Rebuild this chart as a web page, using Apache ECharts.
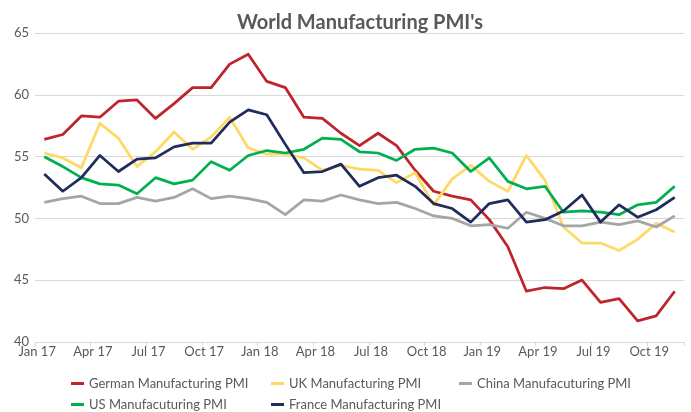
<!DOCTYPE html>
<html>
<head>
<meta charset="utf-8">
<script src="https://cdn.jsdelivr.net/npm/echarts@6/dist/echarts.min.js"></script>
<style>
html,body{margin:0;padding:0;background:#fff;}
#chart{width:691px;height:412px;}
</style>
</head>
<body>
<div id="chart"></div>
<script>
var categories = ['Jan 17','Feb 17','Mar 17','Apr 17','May 17','Jun 17','Jul 17','Aug 17','Sep 17','Oct 17','Nov 17','Dec 17',
  'Jan 18','Feb 18','Mar 18','Apr 18','May 18','Jun 18','Jul 18','Aug 18','Sep 18','Oct 18','Nov 18','Dec 18',
  'Jan 19','Feb 19','Mar 19','Apr 19','May 19','Jun 19','Jul 19','Aug 19','Sep 19','Oct 19','Nov 19'];

var germany = [56.4,56.8,58.3,58.2,59.5,59.6,58.1,59.3,60.6,60.6,62.5,63.3,
  61.1,60.6,58.2,58.1,56.9,55.9,56.9,55.9,53.9,52.2,51.8,51.5,
  49.9,47.7,44.1,44.4,44.3,45.0,43.2,43.5,41.7,42.1,44.1];
var uk = [55.3,54.9,54.1,57.7,56.5,54.2,55.4,57.0,55.6,56.6,58.2,55.7,
  55.2,55.2,54.9,53.9,54.3,54.0,53.9,52.9,53.7,51.1,53.2,54.3,
  53.0,52.2,55.1,53.1,49.3,48.0,48.0,47.4,48.3,49.6,48.9];
var china = [51.3,51.6,51.8,51.2,51.2,51.7,51.4,51.7,52.4,51.6,51.8,51.6,
  51.3,50.3,51.5,51.4,51.9,51.5,51.2,51.3,50.8,50.2,50.0,49.4,
  49.5,49.2,50.5,50.0,49.4,49.4,49.7,49.5,49.8,49.3,50.2];
var us = [55.0,54.2,53.3,52.8,52.7,52.0,53.3,52.8,53.1,54.6,53.9,55.1,
  55.5,55.3,55.6,56.5,56.4,55.4,55.3,54.7,55.6,55.7,55.3,53.8,
  54.9,53.0,52.4,52.6,50.5,50.6,50.5,50.3,51.1,51.3,52.6];
var france = [53.6,52.2,53.3,55.1,53.8,54.8,54.9,55.8,56.1,56.1,57.8,58.8,
  58.4,56.0,53.7,53.8,54.4,52.6,53.3,53.5,52.6,51.2,50.8,49.7,
  51.2,51.5,49.7,49.9,50.6,51.9,49.7,51.1,50.1,50.7,51.7];

var names = ['German Manufacturing PMI','UK Manufacturing PMI','China Manufacuturing PMI','US Manufacuturing PMI','France Manufacturing PMI'];
var colors = ['#C1232B','#FFD966','#A5A5A5','#00B050','#1F2C5C'];
var values = [germany, uk, china, us, france];

var FONT = 'Lato';
var chart = echarts.init(document.getElementById('chart'));

function legendAt(left, top, name) {
  return {
    orient: 'horizontal', left: left, top: top, padding: 0,
    itemWidth: 13, itemHeight: 3, itemGap: 6, icon: 'rect',
    data: [name],
    textStyle: {color: '#595959', fontSize: 13, fontFamily: FONT}
  };
}

chart.setOption({
  animation: false,
  color: colors,
  title: {
    text: "World Manufacturing PMI's",
    left: 355, top: 8, textAlign: 'center',
    textStyle: {color: '#595959', fontSize: 20, fontWeight: 'bold', fontFamily: FONT}
  },
  legend: [
    legendAt(71, 377, names[0]),
    legendAt(271, 377, names[1]),
    legendAt(459, 377, names[2]),
    legendAt(71, 398, names[3]),
    legendAt(271, 398, names[4])
  ],
  grid: {left: 35, right: 7, top: 33.3, bottom: 70.2},
  xAxis: {
    type: 'category', data: categories, boundaryGap: true,
    axisLine: {lineStyle: {color: '#D9D9D9', width: 1}},
    axisTick: {show: true, interval: 2, length: 4, lineStyle: {color: '#D9D9D9'}},
    axisLabel: {interval: 2, color: '#595959', fontSize: 13, fontFamily: FONT, margin: 4, padding: [0, 14, 0, 0]},
    splitLine: {show: false}
  },
  yAxis: {
    type: 'value', min: 40, max: 65, interval: 5,
    axisLine: {show: false}, axisTick: {show: false},
    axisLabel: {color: '#595959', fontSize: 13, fontFamily: FONT, margin: 6},
    splitLine: {lineStyle: {color: '#D9D9D9', width: 1}}
  },
  series: values.map(function (v, i) {
    return {
      name: names[i], type: 'line', data: v,
      symbol: 'none', smooth: false,
      lineStyle: {width: 2.75, color: colors[i], join: 'round'},
      itemStyle: {color: colors[i]}
    };
  })
});
</script>
</body>
</html>
